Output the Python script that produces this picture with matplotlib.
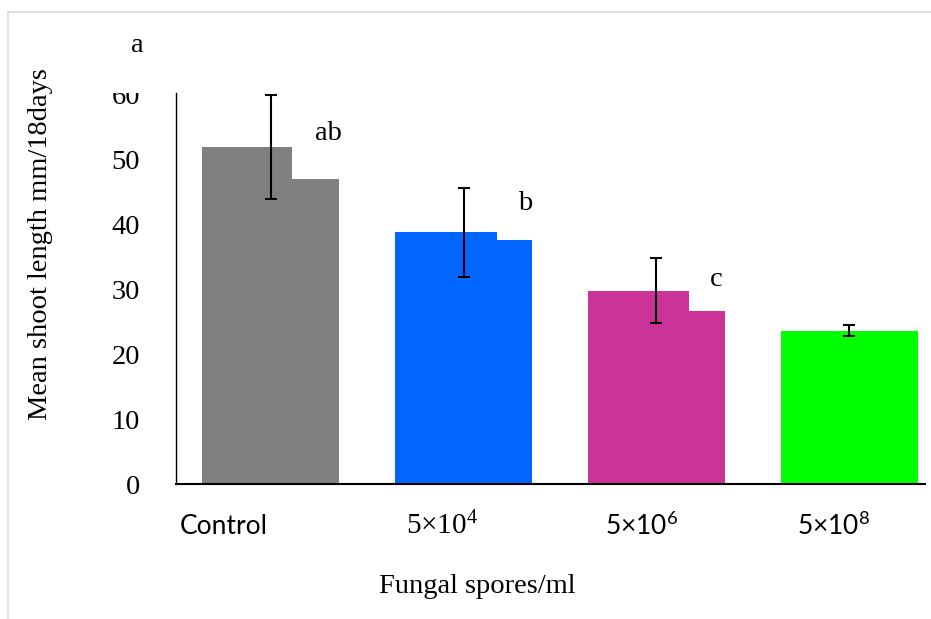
import numpy as np
import matplotlib
matplotlib.use("Agg")
import matplotlib.pyplot as plt
from matplotlib.transforms import Bbox, TransformedBbox
from matplotlib.lines import Line2D

# data
groups = ["Control", "5×10$^4$", "5×10$^6$", "5×10$^8$"]
mean_left = [52.0, 38.8, 29.8, 23.6]     # taller left part of each bar
mean_right = [47.0, 37.6, 26.6, 23.6]    # lower right part of each bar
errors = [8.0, 6.9, 5.0, 0.85]
letters = ["ab", "b", "c", ""]
colors = ["#808080", "#0066FF", "#CC3399", "#00FF00"]
split = [0.657, 0.74, 0.74, 1.0]         # fraction of bar width taken by left part

plt.rcParams["font.family"] = "Liberation Serif"
plt.rcParams["mathtext.default"] = "regular"

FS = 20.5

fig = plt.figure(figsize=(9.31, 6.19), dpi=100)
ax = fig.add_axes([0.189, 0.218, 0.8046, 0.632])

x = np.arange(len(groups))
width = 0.711
for i in x:
    left = i - width / 2
    wl = width * split[i]
    ax.bar(left, mean_right[i], width=width, align="edge", color=colors[i], zorder=2)
    ax.bar(left, mean_left[i], width=wl, align="edge", color=colors[i], zorder=2)
    ax.errorbar(i, mean_left[i], yerr=errors[i], fmt="none", ecolor="black",
                elinewidth=1.5, capsize=4.5, capthick=1.5, zorder=3)

# significance letters
letter_pos = [(0.30, 54.0), (0.32, 43.2), (0.31, 31.6)]
for i, lab in enumerate(letters):
    if lab:
        dx, yy = letter_pos[i]
        ax.text(i + dx, yy, lab, fontsize=FS, ha="center", va="center")

ax.set_xlim(-0.493, 3.394)
ax.set_ylim(0, 60.3)
ax.set_yticks([0, 10, 20, 30, 40, 50, 60])
ax.tick_params(axis="y", length=0, pad=26, labelsize=FS)
ax.set_xticks([])

# x category labels (not centered under the bars in the original)
label_dx = [-0.245, -0.114, -0.078, -0.08]
label_font = ["Lato", "Liberation Serif", "Lato", "Lato"]
label_size = [19, 21, 19, 19]
for i, lab in enumerate(groups):
    ax.text(i + label_dx[i], -6.5, lab, fontsize=label_size[i], family=label_font[i],
            ha="center", va="center")

ax.set_ylabel("Mean shoot length mm/18days", fontsize=FS)
ax.yaxis.set_label_coords(-0.164, 0.614)
fig.text(0.513, 0.052, "Fungal spores/ml", fontsize=FS, ha="center", va="center")
fig.text(0.147, 0.927, "a", fontsize=FS, ha="center", va="center")

for s in ["top", "right"]:
    ax.spines[s].set_visible(False)
ax.spines["left"].set_linewidth(1.0)
ax.spines["bottom"].set_linewidth(1.5)

# the "60" label is cut off at the top of the axis in the original
clip = TransformedBbox(Bbox([[0, 0], [1, 0.8498]]), fig.transFigure)
for lab in ax.get_yticklabels():
    lab.set_clip_box(clip)
    lab.set_clip_on(True)

# light chart border
fig.add_artist(Line2D([8 / 931, 1], [1 - 12 / 619, 1 - 12 / 619], color="#d9d9d9", lw=1.2,
                      transform=fig.transFigure))
fig.add_artist(Line2D([8 / 931, 8 / 931], [0, 1 - 12 / 619], color="#d9d9d9", lw=1.2,
                      transform=fig.transFigure))

fig.savefig("out.png", dpi=100)
